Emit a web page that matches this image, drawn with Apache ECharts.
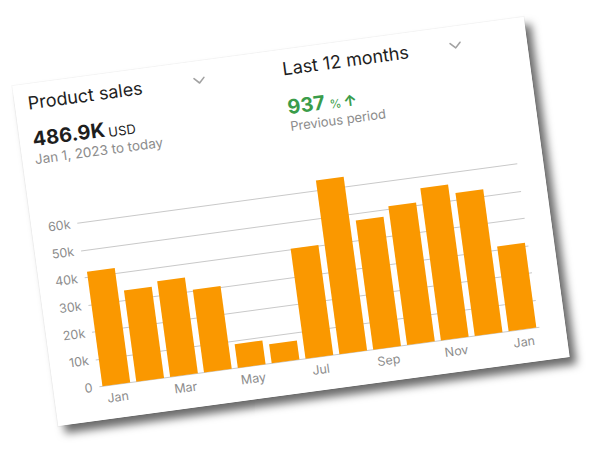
<!DOCTYPE html>
<html>
<head>
<meta charset="utf-8">
<script src="https://cdn.jsdelivr.net/npm/echarts@6/dist/echarts.min.js"></script>
<style>
  html, body { margin: 0; padding: 0; background: #fff; width: 600px; height: 450px; overflow: hidden; }
  #card {
    position: absolute; left: 32.7px; top: 49.9px; width: 516px; height: 343px;
    background: #fff;
    transform: rotate(-7.7deg);
    box-shadow: 0 0 0 1px rgba(0,0,0,0.035), 6px 8px 8px rgba(0,0,0,0.58);
  }
</style>
</head>
<body>
<div id="card"></div>
<script>
// ---- data ----
const categories = ['Jan', 'Feb', 'Mar', 'Apr', 'May', 'Jun', 'Jul', 'Aug', 'Sep', 'Oct', 'Nov', 'Dec', 'Jan'];
const sales = [42000, 33500, 35200, 30400, 8700, 7000, 40400, 63700, 47400, 50900, 55900, 52400, 31100];
const yTickLabels = ['0', '10k', '20k', '30k', '40k', '50k', '60k'];
const metricTitle = 'Product sales';
const totalValue = '486.9K';
const totalUnit = 'USD';
const dateRange = 'Jan 1, 2023 to today';
const periodTitle = 'Last 12 months';
const changeValue = '937';
const changeUnit = '%';
const changeArrow = '↑';
const changeCaption = 'Previous period';

const FONT = 'Inter, "Noto Sans", sans-serif';
const GREEN = '#3a9c4a';
const GRAY = '#8c8c8c';
const DARK = '#1e1e1e';

const chart = echarts.init(document.getElementById('card'), null, { renderer: 'svg', width: 516, height: 343 });

function txt(text, x, y, size, color, weight) {
  return {
    type: 'text', x: x, y: y, silent: true,
    style: {
      text: text, fill: color, fontFamily: FONT, fontSize: size,
      fontWeight: weight || 'normal', align: 'left', verticalAlign: 'middle'
    }
  };
}
function chevron(cx, cy) {
  return {
    type: 'polyline', silent: true,
    shape: { points: [[cx - 5, cy - 2.5], [cx, cy + 2.5], [cx + 5, cy - 2.5]] },
    style: { stroke: '#a2a2a2', lineWidth: 1.6, fill: null, lineCap: 'round', lineJoin: 'round' }
  };
}

chart.setOption({
  animation: false,
  backgroundColor: '#fff',
  grid: { left: 46, right: 26, top: 130.75, bottom: 33.5, containLabel: false },
  xAxis: {
    type: 'category',
    data: categories,
    axisLine: { show: false },
    axisTick: { show: false },
    axisLabel: {
      interval: 1, margin: 6, color: GRAY, fontFamily: FONT, fontSize: 12.5
    }
  },
  yAxis: {
    type: 'value',
    min: 0, max: 65000, interval: 10000,
    axisLine: { show: false },
    axisTick: { show: false },
    axisLabel: {
      margin: 7, color: GRAY, fontFamily: FONT, fontSize: 12.5,
      showMaxLabel: false,
      formatter: function (v) { return yTickLabels[Math.round(v / 10000)] || ''; }
    },
    splitLine: { show: true, showMaxLine: false, lineStyle: { color: '#c9c9c9', width: 1 } }
  },
  series: [{
    type: 'bar',
    data: sales,
    barWidth: 28,
    itemStyle: { color: '#fa9800' }
  }],
  graphic: [
    txt(metricTitle, 13, 19, 18, DARK),
    chevron(186, 19.5),
    txt(totalValue, 13, 55.4, 20, DARK, 'bold'),
    txt(totalUnit, 89, 58.4, 13, DARK),
    txt(dateRange, 12.5, 75.5, 13.5, GRAY),
    txt(periodTitle, 270, 19.2, 18, DARK),
    chevron(444.5, 19),
    txt(changeValue, 270, 57.8, 20, GREEN, 'bold'),
    txt(changeUnit, 312, 60.4, 12, GREEN),
    txt(changeArrow, 326, 59.3, 15, GREEN, 'bold'),
    txt(changeCaption, 270, 76.9, 13, GRAY)
  ]
});
</script>
</body>
</html>
